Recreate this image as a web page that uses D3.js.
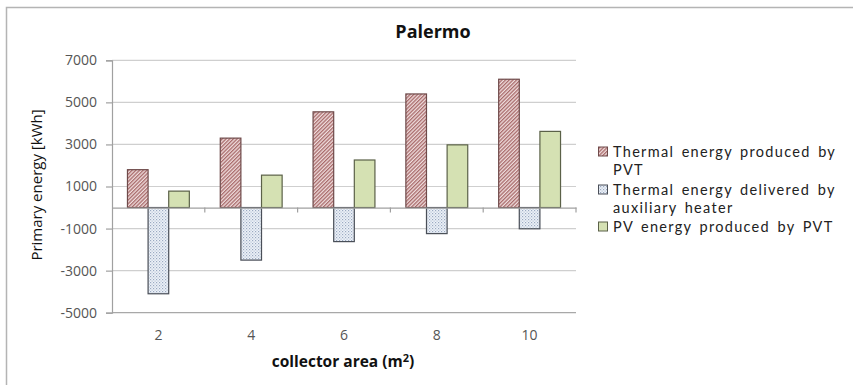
<!DOCTYPE html>
<html>
<head>
<meta charset="utf-8">
<script src="https://cdn.jsdelivr.net/npm/d3@7"></script>
<style>
  html, body { margin: 0; padding: 0; background: #fff; }
  svg { display: block; }
  text { font-family: "Open Sans", "Noto Sans", sans-serif; }
</style>
</head>
<body>
<svg id="chart" width="853" height="385"></svg>
<script>
// Collector areas (m²) on the category axis
const categories = ["2", "4", "6", "8", "10"];
// Primary energy per case [kWh]
const thermalPVT = [1800, 3300, 4550, 5400, 6100];
const auxiliaryHeater = [-4100, -2500, -1620, -1240, -1010];
const pvPVT = [780, 1540, 2260, 2980, 3620];
const yTicks = [-5000, -3000, -1000, 1000, 3000, 5000, 7000];
const seriesNames = [
  ["Thermal energy produced by", "PVT"],
  ["Thermal energy delivered by", "auxiliary heater"],
  ["PV energy produced by PVT"]
];

const svg = d3.select("#chart");

// chart frame (clipped at right and bottom)
svg.append("path")
  .attr("d", "M6.5,385 V7.5 H853")
  .attr("fill", "none").attr("stroke", "#b4b4b4").attr("stroke-width", 1.5);

// fill patterns
const defs = svg.append("defs");
const hatch = defs.append("pattern").attr("id", "hatchRed")
  .attr("patternUnits", "userSpaceOnUse").attr("width", 2.6).attr("height", 2.6)
  .attr("patternTransform", "rotate(45)");
hatch.append("rect").attr("width", 2.6).attr("height", 2.6).attr("fill", "#f0dede");
hatch.append("rect").attr("width", 1.3).attr("height", 2.6).attr("fill", "#a86a6a");

const dots = defs.append("pattern").attr("id", "dotBlue")
  .attr("patternUnits", "userSpaceOnUse").attr("width", 3).attr("height", 3);
dots.append("rect").attr("width", 3).attr("height", 3).attr("fill", "#eef2f8");
dots.append("rect").attr("width", 1.2).attr("height", 1.2).attr("fill", "#9aaac2");
dots.append("rect").attr("x", 1.5).attr("y", 1.5).attr("width", 1.2).attr("height", 1.2).attr("fill", "#b4c2d6");

const series = [
  { values: thermalPVT, fill: "url(#hatchRed)", stroke: "#6e4a4a" },
  { values: auxiliaryHeater, fill: "url(#dotBlue)", stroke: "#4a4f58" },
  { values: pvPVT, fill: "#d5e1b3", stroke: "#5b6148" }
];

const plot = { left: 112, right: 576, top: 60.3, bottom: 312.7 };

const x = d3.scaleBand().domain(categories).range([plot.left, plot.right]).padding(0);
const y = d3.scaleLinear().domain([-5000, 7000]).range([plot.bottom, plot.top]);

// bars sit side by side with a 150% gap between groups
const barW = x.bandwidth() / 4.5;
const inner = d3.scaleBand().domain(d3.range(series.length))
  .range([0.75 * barW, 0.75 * barW + 3 * barW]);

// horizontal gridlines
svg.append("g").selectAll("line").data(yTicks).join("line")
  .attr("x1", plot.left).attr("x2", plot.right)
  .attr("y1", d => y(d)).attr("y2", d => y(d))
  .attr("stroke", d => d === -5000 ? "#a8a8a8" : "#cfcfcf").attr("stroke-width", 1.2);

// value axis (plain hyphen for negatives)
const yAxis = d3.axisLeft(y).tickValues(yTicks).tickSize(6).tickPadding(9).tickFormat(d => String(d));
const gy = svg.append("g").attr("transform", `translate(${plot.left},0)`).call(yAxis);
gy.select(".domain").attr("stroke", "#a0a0a0").attr("stroke-width", 1.2);
gy.selectAll(".tick line").attr("stroke", "#a0a0a0").attr("stroke-width", 1.2);
gy.selectAll(".tick text").attr("fill", "#555").style("font-size", "14px")
  .style("font-family", '"Open Sans", sans-serif');

// bars
series.forEach((s, si) => {
  svg.append("g").selectAll("rect").data(s.values).join("rect")
    .attr("x", (d, i) => x(categories[i]) + inner(si))
    .attr("width", inner.bandwidth())
    .attr("y", d => y(Math.max(0, d)))
    .attr("height", d => Math.abs(y(d) - y(0)))
    .attr("fill", s.fill).attr("stroke", s.stroke).attr("stroke-width", 1.2);
});

// category axis at zero with tick marks between groups
const xAxis = d3.axisBottom(x).tickSize(0).tickFormat("");
const gx = svg.append("g").attr("transform", `translate(0,${y(0)})`).call(xAxis);
gx.select(".domain").attr("stroke", "#a0a0a0").attr("stroke-width", 1.2);
svg.append("g").selectAll("line").data(categories).join("line")
  .attr("x1", d => x(d) + x.bandwidth())
  .attr("x2", d => x(d) + x.bandwidth())
  .attr("y1", y(0)).attr("y2", y(0) + 5)
  .attr("stroke", "#a0a0a0").attr("stroke-width", 1.2);

// category labels below the plot
svg.append("g").selectAll("text").data(categories).join("text")
  .attr("x", d => x(d) + x.bandwidth() / 2).attr("y", 340)
  .attr("text-anchor", "middle").attr("fill", "#555").style("font-size", "14px")
  .text(d => d);

// titles
svg.append("text").attr("x", 433).attr("y", 38).attr("text-anchor", "middle")
  .style("font-size", "18px").style("font-weight", "bold").attr("fill", "#111").text("Palermo");

const xt = svg.append("text").attr("x", 343).attr("y", 367).attr("text-anchor", "middle")
  .style("font-size", "15.5px").style("font-weight", "bold").attr("fill", "#111");
xt.append("tspan").text("collector area (m");
xt.append("tspan").attr("dy", -5).style("font-size", "11px").text("2");
xt.append("tspan").attr("dy", 5).text(")");

svg.append("text").attr("transform", "translate(42,185) rotate(-90)")
  .attr("text-anchor", "middle").style("font-size", "15px").attr("fill", "#111")
  .text("Primary energy [kWh]");

// legend: one text element per line
const legendY = [152, 190, 227];
const lg = svg.append("g");
series.forEach((s, i) => {
  lg.append("rect").attr("x", 598.5).attr("y", legendY[i] - 5).attr("width", 9).attr("height", 9)
    .attr("fill", s.fill).attr("stroke", s.stroke).attr("stroke-width", 1);
  seriesNames[i].forEach((line, j) => {
    lg.append("text").attr("x", 613).attr("y", legendY[i] + 5 + j * 17.5)
      .style("font-family", "Lato, sans-serif").style("font-size", "14.5px")
      .style("letter-spacing", "1.3px").style("word-spacing", "2.5px")
      .attr("fill", "#222").text(line);
  });
});
</script>
</body>
</html>
